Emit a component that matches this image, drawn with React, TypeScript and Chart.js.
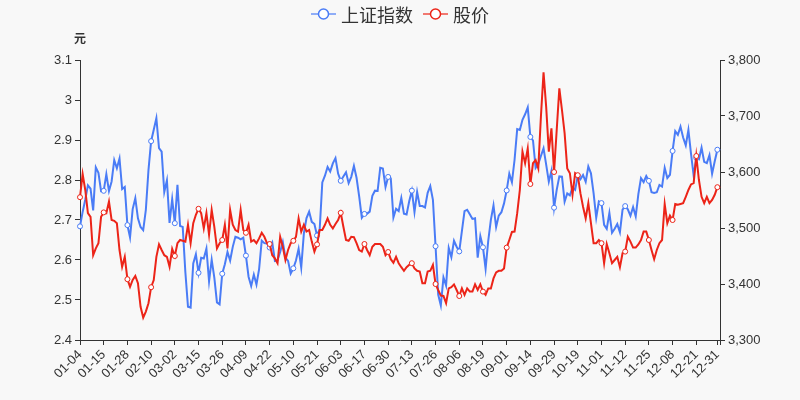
import React, { useEffect, useRef } from 'react';
import { Chart, registerables } from 'chart.js';

Chart.register(...registerables);

// ---------- data ----------
const dates: string[] = [
  // Jan
  '01-04','01-05','01-06','01-07','01-08','01-11','01-12','01-13','01-14','01-15',
  '01-18','01-19','01-20','01-21','01-22','01-25','01-26','01-27','01-28','01-29',
  // Feb
  '02-01','02-02','02-03','02-04','02-05','02-08','02-09','02-10','02-18','02-19',
  '02-22','02-23','02-24','02-25','02-26',
  // Mar
  '03-01','03-02','03-03','03-04','03-05','03-08','03-09','03-10','03-11','03-12',
  '03-15','03-16','03-17','03-18','03-19','03-22','03-23','03-24','03-25','03-26',
  '03-29','03-30','03-31',
  // Apr
  '04-01','04-02','04-06','04-07','04-08','04-09','04-12','04-13','04-14','04-15',
  '04-16','04-19','04-20','04-21','04-22','04-23','04-26','04-27','04-28','04-29','04-30',
  // May
  '05-06','05-07','05-10','05-11','05-12','05-13','05-14','05-17','05-18','05-19',
  '05-20','05-21','05-24','05-25','05-26','05-27','05-28','05-31',
  // Jun
  '06-01','06-02','06-03','06-04','06-07','06-08','06-09','06-10','06-11','06-15',
  '06-16','06-17','06-18','06-21','06-22','06-23','06-24','06-25','06-28','06-29','06-30',
  // Jul
  '07-01','07-02','07-05','07-06','07-07','07-08','07-09','07-12','07-13','07-14',
  '07-15','07-16','07-19','07-20','07-21','07-22','07-23','07-26','07-27','07-28',
  '07-29','07-30',
  // Aug
  '08-02','08-03','08-04','08-05','08-06','08-09','08-10','08-11','08-12','08-13',
  '08-16','08-17','08-18','08-19','08-20','08-23','08-24','08-25','08-26','08-27',
  '08-30','08-31',
  // Sep
  '09-01','09-02','09-03','09-06','09-07','09-08','09-09','09-10','09-13','09-14',
  '09-15','09-16','09-17','09-22','09-23','09-24','09-27','09-28','09-29','09-30',
  // Oct
  '10-08','10-11','10-12','10-13','10-14','10-15','10-18','10-19','10-20','10-21',
  '10-22','10-25','10-26','10-27','10-28','10-29',
  // Nov
  '11-01','11-02','11-03','11-04','11-05','11-08','11-09','11-10','11-11','11-12',
  '11-15','11-16','11-17','11-18','11-19','11-22','11-23','11-24','11-25','11-26',
  '11-29','11-30',
  // Dec
  '12-01','12-02','12-03','12-06','12-07','12-08','12-09','12-10','12-13','12-14',
  '12-15','12-16','12-17','12-20','12-21','12-22','12-23','12-24','12-27','12-28',
  '12-29','12-30','12-31',
];

const shIndex: number[] = [
  3502.96,3528.68,3550.88,3576.20,3570.11,3531.50,3608.34,3598.65,3565.90,3566.38,
  3596.22,3566.12,3583.09,3621.26,3606.75,3624.24,3569.43,3573.34,3505.18,3483.07,
  3533.68,3553.17,3517.31,3501.86,3496.33,3532.44,3603.49,3655.09,3675.36,3696.17,
  3642.44,3636.36,3564.08,3585.05,3509.08,
  3551.40,3508.59,3576.90,3503.49,3501.99,3421.41,3359.29,3357.74,3436.83,3453.08,
  3419.95,3446.73,3445.55,3463.07,3404.66,3443.44,3411.51,3367.06,3363.59,3418.33,
  3435.30,3457.07,3441.91,
  3466.33,3484.39,3482.60,3479.63,3482.55,3450.68,3412.95,3396.47,3416.78,3398.99,
  3426.62,3477.55,3472.94,3472.31,3465.11,3474.17,3441.17,3442.61,3457.07,3474.90,3446.86,
  3441.28,3418.87,3427.99,3441.85,3462.75,3429.54,3490.38,3517.62,3529.01,3510.96,
  3506.94,3486.56,3497.28,3581.34,3593.36,3608.85,3600.78,3615.48,
  3624.71,3597.14,3584.22,3591.84,3599.54,3580.11,3591.40,3610.86,3589.75,3556.56,
  3518.33,3525.10,3525.60,3529.18,3557.41,3566.65,3566.22,3607.56,3606.37,3573.18,3591.20,
  3588.78,3518.76,3534.32,3530.26,3553.72,3525.50,3524.09,3547.84,3566.68,3528.50,
  3564.59,3539.30,3539.12,3536.79,3562.70,3574.73,3550.40,3467.44,3381.18,3361.59,
  3411.72,3397.36,
  3464.29,3447.99,3477.22,3466.56,3458.23,3494.63,3529.93,3532.62,3524.74,3516.30,
  3517.34,3446.98,3485.29,3465.55,3427.33,3477.13,3514.47,3540.38,3501.66,3522.16,
  3528.15,3543.94,
  3567.10,3597.04,3581.73,3621.86,3676.59,3675.19,3693.13,3703.11,3715.37,3662.60,
  3656.22,3607.09,3613.97,3628.49,3642.22,3613.07,3582.83,3602.22,3536.29,3568.17,
  3592.17,3591.71,3546.94,3561.76,3558.28,3572.37,3568.14,3593.15,3587.00,3594.78,
  3582.60,3609.86,3597.64,3562.31,3518.42,3547.34,
  3544.48,3505.63,3498.54,3526.87,3491.57,3498.63,3507.00,3492.46,3532.79,3539.10,
  3533.30,3521.79,3537.37,3520.71,3560.37,3589.09,3581.89,3592.70,3584.18,3564.09,
  3562.70,3563.89,
  3576.89,3573.84,3607.43,3589.31,3595.09,3637.57,3673.04,3666.35,3681.08,3661.53,
  3647.63,3675.02,3632.36,3593.60,3625.13,3622.62,3643.34,3618.05,3615.97,3630.11,
  3597.00,3619.19,3639.78,
];

const stockPrice: number[] = [
  2.757,2.815,2.775,2.717,2.708,2.612,2.629,2.642,2.708,2.719,
  2.717,2.746,2.700,2.698,2.692,2.625,2.583,2.608,2.552,2.533,
  2.550,2.560,2.542,2.483,2.456,2.471,2.492,2.532,2.550,2.608,
  2.639,2.625,2.612,2.608,2.583,
  2.628,2.610,2.642,2.650,2.648,2.646,2.688,2.642,2.692,2.713,
  2.728,2.717,2.679,2.717,2.663,2.725,2.683,2.629,2.642,2.650,
  2.688,2.629,2.725,
  2.688,2.675,2.671,2.725,2.675,2.668,2.688,2.646,2.650,2.642,
  2.654,2.668,2.658,2.642,2.640,2.612,2.604,2.592,2.658,2.633,2.600,
  2.625,2.642,2.648,2.658,2.704,2.671,2.688,2.671,2.675,2.646,
  2.621,2.639,2.675,2.675,2.688,2.704,2.688,2.679,
  2.690,2.700,2.718,2.683,2.650,2.648,2.658,2.657,2.642,2.625,
  2.621,2.640,2.625,2.612,2.633,2.640,2.640,2.640,2.633,2.612,2.620,
  2.602,2.593,2.608,2.592,2.582,2.573,2.582,2.588,2.592,2.579,
  2.573,2.571,2.542,2.542,2.571,2.573,2.588,2.540,2.525,2.511,
  2.510,2.492,
  2.529,2.532,2.539,2.525,2.510,2.529,2.513,2.529,2.521,2.521,
  2.539,2.525,2.539,2.521,2.513,2.529,2.529,2.554,2.569,2.573,
  2.573,2.579,
  2.631,2.650,2.670,2.671,2.717,2.775,2.871,2.842,2.879,2.790,
  2.842,2.850,2.829,2.958,3.069,2.983,2.871,2.929,2.820,2.925,
  3.029,2.975,2.917,2.829,2.817,2.763,2.817,2.812,2.767,2.733,
  2.704,2.742,2.692,2.642,2.642,2.650,
  2.642,2.592,2.640,2.617,2.592,2.600,2.608,2.582,2.617,2.621,
  2.658,2.646,2.631,2.631,2.639,2.650,2.671,2.671,2.650,2.625,
  2.602,2.625,
  2.642,2.650,2.740,2.692,2.711,2.700,2.740,2.738,2.740,2.742,
  2.758,2.775,2.789,2.792,2.860,2.800,2.758,2.742,2.758,2.742,
  2.750,2.763,2.782,
];

const seriesNames = ['上证指数', '股价'];
const leftAxisTicks = [2.4, 2.5, 2.6, 2.7, 2.8, 2.9, 3.0, 3.1];
const rightAxisTicks = [3300, 3400, 3500, 3600, 3700, 3800];
const unitLabel = '元';

// ---------- styles ----------
const BLUE = '#4a7cf6';
const RED = '#ec2418';
const TEXT = '#333';
const BG = '#f8f8f8';
const LABEL_STEP = 9;

const categories = [...dates, ''];
const lastIdx = dates.length - 1;
const showTick = (i: number) => i % LABEL_STEP === 0 || i === lastIdx;

const legendPlugin = {
  id: 'customLegend',
  beforeDraw(chart: any) {
    const { ctx, width, height } = chart;
    ctx.save();
    ctx.fillStyle = BG;
    ctx.fillRect(0, 0, width, height);
    ctx.restore();
  },
  afterDraw(chart: any) {
    const ctx = chart.ctx as CanvasRenderingContext2D;
    ctx.save();
    const font = '18px "Noto Sans CJK SC", sans-serif';
    ctx.font = font;
    const iconW = 25, textGap = 5, itemGap = 10;
    const colors = [BLUE, RED];
    const widths = seriesNames.map((s) => ctx.measureText(s).width);
    const total = widths.reduce((a, w) => a + iconW + textGap + w, 0) + itemGap * (seriesNames.length - 1);
    let x = 400 - total / 2;
    const y = 14;
    seriesNames.forEach((name, i) => {
      ctx.globalAlpha = 0.6;
      ctx.strokeStyle = colors[i];
      ctx.lineWidth = 2;
      ctx.beginPath();
      ctx.moveTo(x, y);
      ctx.lineTo(x + iconW, y);
      ctx.stroke();
      ctx.globalAlpha = 1;
      ctx.beginPath();
      ctx.arc(x + iconW / 2, y, 5, 0, Math.PI * 2);
      ctx.fillStyle = '#fff';
      ctx.fill();
      ctx.lineWidth = 1.5;
      ctx.strokeStyle = colors[i];
      ctx.stroke();
      ctx.fillStyle = TEXT;
      ctx.textBaseline = 'middle';
      ctx.textAlign = 'left';
      ctx.fillText(name, x + iconW + textGap, y + 1);
      x += iconW + textGap + widths[i] + itemGap;
    });
    // unit label
    ctx.font = 'bold 12px "Noto Sans CJK SC", sans-serif';
    ctx.textAlign = 'center';
    ctx.textBaseline = 'middle';
    ctx.fillStyle = TEXT;
    ctx.fillText(unitLabel, chart.chartArea.left, 38);
    ctx.restore();
  },
};

export default function App() {
  const ref = useRef<HTMLCanvasElement | null>(null);
  useEffect(() => {
    if (!ref.current) return;
    const tickFont = { family: '"Liberation Sans", Arial, sans-serif', size: 13 };
    const pointR = (c: any) => (showTick(c.index) ? 2.5 : 0);
    const chart = new Chart(ref.current, {
      type: 'line',
      data: {
        labels: categories,
        datasets: [
          {
            label: seriesNames[0],
            data: shIndex,
            yAxisID: 'y1',
            borderColor: BLUE,
            backgroundColor: '#fff',
            borderWidth: 2,
            pointRadius: pointR,
            pointBackgroundColor: '#fff',
            pointBorderColor: BLUE,
            pointBorderWidth: 1,
            tension: 0,
            order: 1,
          },
          {
            label: seriesNames[1],
            data: stockPrice,
            yAxisID: 'y',
            borderColor: RED,
            backgroundColor: '#fff',
            borderWidth: 2,
            pointRadius: pointR,
            pointBackgroundColor: '#fff',
            pointBorderColor: RED,
            pointBorderWidth: 1,
            tension: 0,
            order: 0,
          },
        ],
      },
      options: {
        animation: false,
        responsive: true,
        maintainAspectRatio: false,
        events: [],
        layout: { padding: { top: 60, left: 0, right: 0, bottom: 0 } },
        plugins: { legend: { display: false }, tooltip: { enabled: false } },
        scales: {
          x: {
            type: 'category',
            offset: false,
            grid: {
              drawOnChartArea: false,
              drawTicks: true,
              tickLength: 5,
              tickColor: (c: any) => (showTick(c.index) || c.index === categories.length - 1 ? TEXT : 'rgba(0,0,0,0)'),
            },
            border: { display: true, color: TEXT, width: 1 },
            ticks: {
              autoSkip: false,
              minRotation: 45,
              maxRotation: 45,
              padding: 2,
              color: TEXT,
              font: tickFont,
              callback: (_v: any, i: number) => (showTick(i) ? categories[i] : ''),
            },
            afterFit: (s: any) => { s.height = 60; },
          },
          y: {
            type: 'linear',
            position: 'left',
            min: 2.4,
            max: 3.1,
            grid: { drawOnChartArea: false, drawTicks: true, tickLength: 5, tickColor: TEXT },
            border: { display: true, color: TEXT, width: 1 },
            ticks: {
              color: TEXT,
              font: tickFont,
              padding: 3,
              callback: (v: any) => String(Number(Number(v).toFixed(1))),
            },
            afterBuildTicks: (s: any) => { s.ticks = leftAxisTicks.map((v) => ({ value: v })); },
            afterFit: (s: any) => { s.width = 80; },
          },
          y1: {
            type: 'linear',
            position: 'right',
            min: 3300,
            max: 3800,
            grid: { drawOnChartArea: false, drawTicks: true, tickLength: 5, tickColor: TEXT },
            border: { display: true, color: TEXT, width: 1 },
            ticks: {
              color: TEXT,
              font: tickFont,
              padding: 3,
              callback: (v: any) => Number(v).toLocaleString('en-US'),
            },
            afterBuildTicks: (s: any) => { s.ticks = rightAxisTicks.map((v) => ({ value: v })); },
            afterFit: (s: any) => { s.width = 80; },
          },
        },
      },
      plugins: [legendPlugin],
    } as any);
    return () => chart.destroy();
  }, []);

  return (
    <div style={{ position: 'absolute', left: 0, top: 0, width: 800, height: 400, background: BG }}>
      <canvas ref={ref} />
    </div>
  );
}
